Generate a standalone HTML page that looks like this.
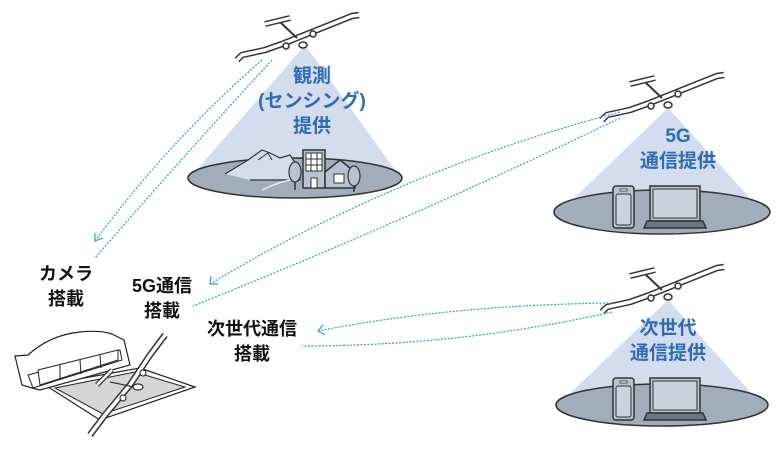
<!DOCTYPE html>
<html><head><meta charset="utf-8"><style>
html,body{margin:0;padding:0;background:#fff;}
svg{display:block;}
.t{font-family:"Liberation Sans","Noto Sans CJK JP",sans-serif;font-weight:bold;text-anchor:middle;}
</style></head><body>
<svg width="780" height="450" viewBox="0 0 780 450" xmlns="http://www.w3.org/2000/svg">
<defs>
<g id="plane">
  <polyline points="0,0 5,-5 28,-10 45,-16 60,-22 80,-30 100,-38 115,-44 122,-45" fill="none" stroke="#333" stroke-width="6.5" stroke-linejoin="round"/>
  <polyline points="0,0 5,-5 28,-10 45,-16 60,-22 80,-30 100,-38 115,-44 122,-45" fill="none" stroke="#fff" stroke-width="3.5" stroke-linejoin="round"/>
  <line x1="43" y1="-38" x2="60" y2="-22" stroke="#333" stroke-width="2"/>
  <polyline points="28,-36 53,-42" fill="none" stroke="#333" stroke-width="6"/>
  <polyline points="28,-36 53,-42" fill="none" stroke="#fff" stroke-width="3"/>
  <circle cx="49" cy="-14" r="3" fill="#fff" stroke="#333" stroke-width="1.5"/>
  <circle cx="76" cy="-26" r="3" fill="#fff" stroke="#333" stroke-width="1.5"/>
  <ellipse cx="66" cy="-15" rx="4" ry="3" fill="#fff" stroke="#333" stroke-width="1.5"/>
</g>
<g id="devices">
  <rect x="0" y="0" width="21" height="42" rx="3" fill="#b8c3d1" stroke="#333" stroke-width="1.5"/>
  <rect x="3" y="8" width="15" height="31" rx="2" fill="#c9d2dd" stroke="#333" stroke-width="1"/>
  <rect x="7" y="3" width="7" height="2" fill="#fff" stroke="#333" stroke-width="0.8"/>
  <rect x="37" y="0" width="50" height="35" fill="#b8c3d1" stroke="#333" stroke-width="1.5"/>
  <rect x="40" y="3" width="44" height="29" fill="#c9d2dd" stroke="#333" stroke-width="1"/>
  <path d="M31,42 L93,42 L90,35 L34,35 Z" fill="#6b7584" stroke="#333" stroke-width="1.5"/>
</g>
</defs>

<polygon points="305,45 195,172 395,170" fill="#d3dded"/>
<polygon points="668,108 565,207 760,209" fill="#d3dded"/>
<polygon points="668,300 563,400 760,403" fill="#d3dded"/>

<ellipse cx="295" cy="178" rx="107" ry="20" fill="#a2adbb" stroke="#333" stroke-width="1.5"/>
<ellipse cx="662" cy="212" rx="108" ry="22" fill="#a2adbb" stroke="#333" stroke-width="1.5"/>
<ellipse cx="662" cy="405" rx="106" ry="21" fill="#a2adbb" stroke="#333" stroke-width="1.5"/>

<path d="M225,174 L248,160 L262,150 L270,153 L280,158 L290,155 L300,170 L300,180 L250,180" fill="#d3dded" stroke="#333" stroke-width="1.2"/>
<path d="M258,160 L268,153 L272,160" fill="none" stroke="#333" stroke-width="1"/>
<path d="M262,190 Q280,181 300,178" fill="none" stroke="#e6ebf2" stroke-width="1.5"/>
<rect x="303" y="150" width="22" height="38" fill="#b8c3d1" stroke="#333" stroke-width="1.5"/>
<g stroke="#333" stroke-width="1" fill="#fff">
<rect x="306" y="153" width="16" height="18"/>
<line x1="311" y1="153" x2="311" y2="171"/><line x1="317" y1="153" x2="317" y2="171"/>
<line x1="306" y1="159" x2="322" y2="159"/><line x1="306" y1="165" x2="322" y2="165"/>
<rect x="311" y="178" width="6" height="10"/>
</g>
<path d="M325,172 L340,160 L355,172 L355,188 L325,188 Z" fill="#b8c3d1" stroke="#333" stroke-width="1.5"/>
<rect x="334" y="174" width="10" height="9" fill="#fff" stroke="#333" stroke-width="1"/>
<ellipse cx="295" cy="172" rx="6" ry="10" fill="#b8c3d1" stroke="#333" stroke-width="1.2"/>
<line x1="295" y1="182" x2="295" y2="190" stroke="#333" stroke-width="1.5"/>
<ellipse cx="354" cy="176" rx="6" ry="10" fill="#b8c3d1" stroke="#333" stroke-width="1.2"/>
<line x1="354" y1="186" x2="354" y2="192" stroke="#333" stroke-width="1.5"/>

<use href="#devices" x="613" y="186"/>
<use href="#devices" x="613" y="378"/>

<use href="#plane" x="237" y="60"/>
<use href="#plane" x="602" y="120"/>
<use href="#plane" x="602" y="312"/>

<g stroke="#2a9fdc" stroke-width="1.2" fill="none" stroke-dasharray="2,1.5">
<path d="M262,60 Q170,140 95,241"/>
<path d="M272,60 Q180,160 95,258"/>
<path d="M620,112 Q400,170 210,284"/>
<path d="M620,118 Q420,215 193,306"/>
<path d="M612,303 Q450,305 318,331"/>
<path d="M612,312 Q460,346 302,346"/>
</g>
<g stroke="#2a9fdc" stroke-width="1.2" fill="none">
<polyline points="95,233 95,241 103,238"/>
<polyline points="211,276 210,284 218,284"/>
<polyline points="323,325 318,331 325,335"/>
</g>

<g class="t" fill="#2f6cb3" font-size="19">
<text x="312" y="82">観測</text>
<text x="312" y="107">(センシング)</text>
<text x="312" y="132">提供</text>
<text x="678" y="142">5G</text>
<text x="678" y="167">通信提供</text>
<text x="668" y="334">次世代</text>
<text x="668" y="359">通信提供</text>
</g>
<g class="t" fill="#111" font-size="18">
<text x="66" y="280">カメラ</text>
<text x="66" y="305">搭載</text>
<text x="162" y="292">5G通信</text>
<text x="162" y="317">搭載</text>
<text x="252" y="335">次世代通信</text>
<text x="252" y="360">搭載</text>
</g>

<path d="M45,385 L140,368 L195,387 L100,420 Z" fill="#fff" stroke="#222" stroke-width="1.2"/>
<path d="M55,388 L135,372 L185,387 L103,414 Z" fill="#d6d6d6" stroke="#222" stroke-width="1"/>
<path d="M15,356 L28,355 Q50,335 80,332 Q100,330 112,334 L124,340 L130,365 L40,390 L32,388 L22,385 Z" fill="#fff" stroke="#222" stroke-width="1.2"/>
<path d="M28,375 L120,350 L122,360 L33,388 Z" fill="#fff" stroke="#222" stroke-width="1"/>
<path d="M38,370 L118,350 L118,360 L40,385 Z" fill="#fff" stroke="#222" stroke-width="1"/>
<g stroke="#222" stroke-width="1"><line x1="60" y1="365" x2="60" y2="380"/><line x1="80" y1="360" x2="81" y2="374"/><line x1="100" y1="355" x2="101" y2="368"/></g>
<polyline points="90,435 105,415 130,385 150,355 165,335" fill="none" stroke="#333" stroke-width="6.5"/>
<polyline points="90,435 105,415 130,385 150,355 165,335" fill="none" stroke="#fff" stroke-width="3.5"/>
<line x1="97" y1="385" x2="112" y2="370" stroke="#333" stroke-width="5"/>
<line x1="97" y1="385" x2="112" y2="370" stroke="#fff" stroke-width="2.5"/>
<path d="M110,382 Q125,385 138,388" fill="none" stroke="#333" stroke-width="1.2"/>
<ellipse cx="138" cy="387" rx="5" ry="3" fill="#fff" stroke="#333" stroke-width="1.2"/>
<circle cx="143" cy="373" r="3" fill="#fff" stroke="#333" stroke-width="1.2"/>
<circle cx="123" cy="398" r="3" fill="#fff" stroke="#333" stroke-width="1.2"/>
</svg>
</body></html>
